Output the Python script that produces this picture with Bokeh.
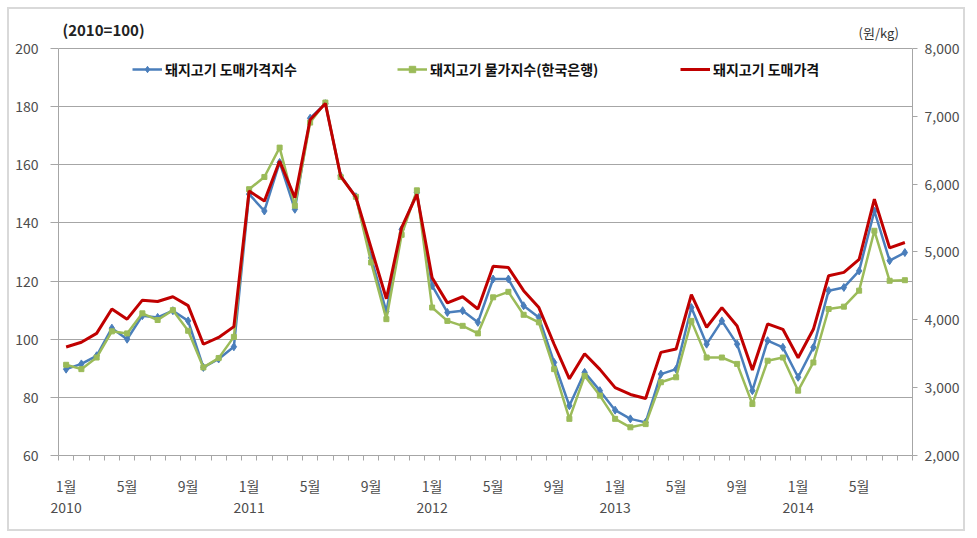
from bokeh.plotting import figure
from bokeh.models import (Range1d, LinearAxis, FixedTicker, NumeralTickFormatter,
                          Legend, LegendItem, Label)
from bokeh.embed import file_html
from bokeh.resources import INLINE

# ---------------- data ----------------
month_index = list(range(56))  # Jan 2010 .. Aug 2014

month_tick_pos = [0, 4, 8, 12, 16, 20, 24, 28, 32, 36, 40, 44, 48, 52]
month_tick_labels = ["1월", "5월", "9월"] * 4 + ["1월", "5월"]
year_tick_pos = [0, 12, 24, 36, 48]
year_tick_labels = ["2010", "2011", "2012", "2013", "2014"]

left_ticks = [60, 80, 100, 120, 140, 160, 180, 200]
right_ticks = [2000, 3000, 4000, 5000, 6000, 7000, 8000]

# 돼지고기 도매가격지수 (2010=100)
index_wholesale = [89.7, 91.5, 94.3, 103.8, 100.0, 108.1, 107.5, 109.8, 106.3, 90.3, 93.2, 97.4,
                   149.9, 144.1, 160.8, 144.7, 176.0, 181.0, 156.2, 149.0, 128.0, 109.5, 137.8, 150.4,
                   118.4, 109.2, 109.8, 105.8, 120.7, 120.7, 111.5, 107.5, 92.0, 77.1, 88.6, 82.3,
                   75.6, 72.6, 71.4, 88.0, 89.7, 110.9, 98.3, 106.3, 98.3, 82.3, 99.5, 97.2,
                   86.9, 97.2, 116.7, 117.8, 123.5, 144.1, 127.0, 129.8]

# 돼지고기 물가지수(한국은행) (2010=100)
index_bok = [91.2, 89.7, 93.7, 102.7, 102.0, 108.9, 106.6, 110.0, 102.9, 90.3, 93.5, 100.8,
             151.6, 155.8, 165.9, 145.9, 174.5, 181.4, 155.8, 149.0, 126.4, 106.9, 135.9, 151.2,
             110.9, 106.3, 104.6, 102.0, 114.4, 116.3, 108.4, 105.8, 89.7, 72.6, 87.4, 80.6,
             72.6, 69.7, 70.8, 85.2, 86.9, 106.3, 93.7, 93.7, 91.5, 77.7, 92.6, 93.7,
             82.3, 92.0, 110.4, 111.2, 116.7, 137.3, 120.1, 120.3]

# 돼지고기 도매가격 (원/kg)
price = [3600, 3670, 3800, 4160, 4010, 4290, 4270, 4340, 4210, 3640, 3740, 3900,
         5900, 5750, 6340, 5800, 6950, 7190, 6120, 5810, 5060, 4310, 5360, 5850,
         4620, 4250, 4340, 4160, 4790, 4770, 4430, 4180, 3640, 3130, 3500, 3270,
         3000, 2900, 2840, 3520, 3570, 4370, 3890, 4180, 3910, 3260, 3940, 3860,
         3440, 3860, 4650, 4700, 4890, 5780, 5060, 5140]

# ---------------- style ----------------
FONT = "Noto Sans CJK KR"
BLUE = "#4A7EBB"
GREEN = "#9BBB59"
RED = "#C00000"
GRAY = "#a6a6a6"
TXT = "#4d4d4d"

# axis scales: left 60..200 (index), right 2000..8000 (won/kg); the frame reaches a bit
# higher to leave room for the unit captions, the axes themselves stop at 200 / 8000
L_MIN, L_MAX, L_TOP = 60, 200, 211.0
R_MIN, R_MAX = 2000, 8000
R_TOP = R_MIN + (L_TOP - L_MIN) * (R_MAX - R_MIN) / (L_MAX - L_MIN)

p = figure(width=958, height=524, output_backend="svg", toolbar_location=None,
           x_range=Range1d(-0.5, 55.5), y_range=Range1d(L_MIN, L_TOP),
           min_border_left=49, min_border_right=55, min_border_top=7, min_border_bottom=78)
p.styles = {"border": "2px solid #d9d9d9", "margin-left": "7px", "margin-top": "7px"}
p.extra_y_ranges = {"price": Range1d(R_MIN, R_TOP)}
p.outline_line_color = None
p.background_fill_color = "white"
p.border_fill_color = "white"

p.xgrid.visible = False
p.ygrid.grid_line_color = GRAY
p.ygrid.grid_line_width = 1

# left axis
ya = p.yaxis[0]
ya.ticker = FixedTicker(ticks=left_ticks)
ya.bounds = (L_MIN, L_MAX)
ya.axis_line_color = GRAY
ya.major_tick_line_color = GRAY
ya.major_tick_out = 8
ya.major_tick_in = 0
ya.minor_tick_line_color = None
ya.major_label_standoff = 12
ya.major_label_text_font = FONT
ya.major_label_text_font_size = "14px"
ya.major_label_text_color = TXT

# right axis
ra = LinearAxis(y_range_name="price", ticker=FixedTicker(ticks=right_ticks),
                formatter=NumeralTickFormatter(format="0,0"), bounds=(R_MIN, R_MAX))
ra.axis_line_color = GRAY
ra.major_tick_line_color = GRAY
ra.major_tick_out = 5
ra.major_tick_in = 0
ra.minor_tick_line_color = None
ra.major_label_standoff = 7
ra.major_label_text_font = FONT
ra.major_label_text_font_size = "14px"
ra.major_label_text_color = TXT
p.add_layout(ra, "right")

# bottom axis (months)
xa = p.xaxis[0]
xa.ticker = FixedTicker(ticks=month_tick_pos, minor_ticks=[k - 0.5 for k in range(57)])
xa.major_label_overrides = {pos: lab for pos, lab in zip(month_tick_pos, month_tick_labels)}
xa.axis_line_color = GRAY
xa.major_tick_out = 0
xa.major_tick_in = 0
xa.major_tick_line_color = None
xa.minor_tick_line_color = GRAY
xa.minor_tick_out = 5
xa.minor_tick_in = 0
xa.major_label_standoff = 15
xa.major_label_text_font = FONT
xa.major_label_text_font_size = "14px"
xa.major_label_text_color = TXT

# second bottom axis (years)
ya2 = LinearAxis(ticker=FixedTicker(ticks=year_tick_pos),
                 major_label_overrides={pos: lab for pos, lab in zip(year_tick_pos, year_tick_labels)})
ya2.axis_line_color = None
ya2.major_tick_line_color = None
ya2.minor_tick_line_color = None
ya2.major_tick_out = 0
ya2.major_tick_in = 0
ya2.major_label_standoff = 3
ya2.major_label_text_font = FONT
ya2.major_label_text_font_size = "14px"
ya2.major_label_text_color = TXT
p.add_layout(ya2, "below")

# ---------------- series ----------------
bl = p.line(month_index, index_wholesale, line_color=BLUE, line_width=2.5)
bs = p.scatter(month_index, index_wholesale, marker="diamond", size=8,
               fill_color=BLUE, line_color=BLUE)
gl = p.line(month_index, index_bok, line_color=GREEN, line_width=2.5)
gs = p.scatter(month_index, index_bok, marker="square", size=5,
               fill_color=GREEN, line_color=GREEN)
rl = p.line(month_index, price, line_color=RED, line_width=3, y_range_name="price")

# ---------------- legends ----------------
def make_legend(label, renderers, loc):
    lg = Legend(items=[LegendItem(label=label, renderers=renderers)], location=loc)
    lg.label_text_font = FONT
    lg.label_text_font_size = "14px"
    lg.label_text_font_style = "bold"
    lg.label_text_color = "#111111"
    lg.glyph_width = 30
    lg.glyph_height = 16
    lg.label_height = 16
    lg.label_standoff = 3
    lg.padding = 0
    lg.margin = 0
    lg.spacing = 0
    lg.border_line_color = None
    lg.background_fill_alpha = 0
    return lg

p.add_layout(make_legend("돼지고기 도매가격지수", [bl, bs], (74, 376)))
p.add_layout(make_legend("돼지고기 물가지수(한국은행)", [gl, gs], (339, 376)))
p.add_layout(make_legend("돼지고기 도매가격", [rl], (622, 376)))

# ---------------- unit captions ----------------
p.add_layout(Label(x=-0.24, y=206.5, text="(2010=100)", text_font=FONT,
                   text_font_size="15px", text_font_style="bold", text_color="#222222",
                   text_baseline="middle", text_align="left"))
p.add_layout(Label(x=54.6, y=205.4, text="(원/kg)", text_font=FONT,
                   text_font_size="13px", text_color="#333333",
                   text_baseline="middle", text_align="right"))

open("out.html", "w").write(file_html(p, INLINE))
